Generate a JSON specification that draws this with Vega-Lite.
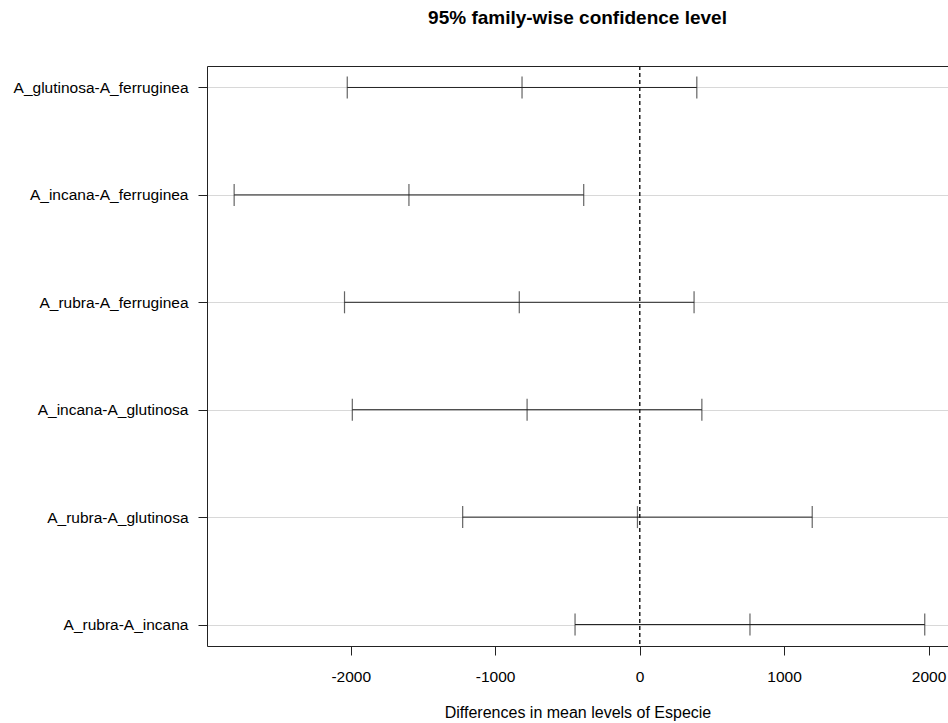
{
  "$schema": "https://vega.github.io/schema/vega-lite/v6.json",
  "autosize": "none",
  "width": 741,
  "height": 580,
  "padding": {"left": 207, "top": 66, "right": 0, "bottom": 77},
  "background": "white",
  "config": {
    "font": "Liberation Sans",
    "view": {"stroke": null},
    "axis": {"labelColor": "black", "titleColor": "black", "domainColor": "#222", "tickColor": "#222", "labelFont": "Liberation Sans", "titleFont": "Liberation Sans"}
  },
  "title": {
    "text": "95% family-wise confidence level",
    "fontSize": 19,
    "fontWeight": "bold",
    "font": "Liberation Sans",
    "color": "black",
    "anchor": "middle",
    "offset": 38
  },
  "data": {
    "values": [
      {"comp": "A_glutinosa-A_ferruginea", "diff": -814, "lwr": -2024, "upr": 396},
      {"comp": "A_incana-A_ferruginea", "diff": -1597, "lwr": -2807, "upr": -387},
      {"comp": "A_rubra-A_ferruginea", "diff": -833, "lwr": -2043, "upr": 377},
      {"comp": "A_incana-A_glutinosa", "diff": -779, "lwr": -1989, "upr": 431},
      {"comp": "A_rubra-A_glutinosa", "diff": -15, "lwr": -1225, "upr": 1195},
      {"comp": "A_rubra-A_incana", "diff": 764, "lwr": -447, "upr": 1974}
    ]
  },
  "encoding": {
    "y": {
      "field": "comp",
      "type": "nominal",
      "sort": null,
      "scale": {"type": "point", "padding": 0.2},
      "axis": {
        "title": null,
        "labelFontSize": 15.5,
        "labelPadding": 10,
        "tickSize": 9,
        "grid": true,
        "gridColor": "#d8d8d8",
        "gridWidth": 1,
        "domain": true
      }
    }
  },
  "layer": [
    {
      "mark": {"type": "rule", "color": "#222", "strokeWidth": 1},
      "encoding": {
        "x": {
          "field": "lwr",
          "type": "quantitative",
          "scale": {"domain": [-2995, 2135], "nice": false, "zero": false},
          "axis": {
            "orient": "bottom",
            "values": [-2000, -1000, 0, 1000, 2000],
            "labelExpr": "'' + datum.value",
            "grid": false,
            "labelFontSize": 15.5,
            "tickSize": 9,
            "labelPadding": 14,
            "title": "Differences in mean levels of Especie",
            "titleFontSize": 16,
            "titleFontWeight": "normal",
            "titlePadding": 20
          }
        },
        "x2": {"field": "upr"}
      }
    },
    {
      "mark": {"type": "tick", "color": "#222", "size": 22, "thickness": 1.2, "orient": "vertical"},
      "encoding": {"x": {"field": "lwr", "type": "quantitative", "axis": null}}
    },
    {
      "mark": {"type": "tick", "color": "#222", "size": 22, "thickness": 1.2, "orient": "vertical"},
      "encoding": {"x": {"field": "diff", "type": "quantitative", "axis": null}}
    },
    {
      "mark": {"type": "tick", "color": "#222", "size": 22, "thickness": 1.2, "orient": "vertical"},
      "encoding": {"x": {"field": "upr", "type": "quantitative", "axis": null}}
    },
    {
      "mark": {"type": "rule", "color": "#222", "strokeWidth": 1, "strokeDash": [4, 3]},
      "encoding": {
        "x": {
          "datum": 0,
          "type": "quantitative",
          "axis": {"orient": "top", "labels": false, "ticks": false, "title": null, "grid": false, "domain": true}
        },
        "y": null
      }
    }
  ],
  "resolve": {"axis": {"x": "independent"}}
}
